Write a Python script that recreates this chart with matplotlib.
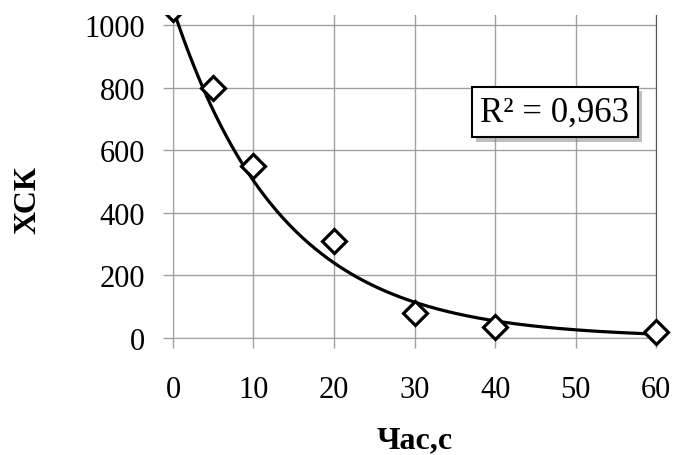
import numpy as np
import matplotlib
matplotlib.use("Agg")
import matplotlib.pyplot as plt
import matplotlib.patheffects as pe
from matplotlib.patches import Rectangle

# data
time_s = [0, 5, 10, 20, 30, 40, 60]
hsk = [1050, 800, 548, 310, 80, 35, 18]
r2_label = "R² = 0,963"
x_ticks = [0, 10, 20, 30, 40, 50, 60]
y_ticks = [0, 200, 400, 600, 800, 1000]

plt.rcParams['font.family'] = ['Liberation Serif', 'DejaVu Serif']

fig = plt.figure(figsize=(6.73, 4.56), dpi=100)
ax = fig.add_axes([0.257, 0.2566, 0.718, 0.7084])

# exponential trendline, fitted the way Excel does (log-linear)
b, ln_a = np.polyfit(time_s, np.log(hsk), 1)
xs = np.linspace(0, 60, 300)
trend, = ax.plot(xs, np.exp(ln_a) * np.exp(b * xs), color='black', lw=2.3, zorder=3)

pts, = ax.plot(time_s, hsk, linestyle='none', marker='D', markersize=12,
               markerfacecolor='white', markeredgecolor='black', markeredgewidth=2.3, zorder=4)
# clip only at the top of the plot area, like the original
clip = Rectangle((-0.1, -0.2), 1.2, 1.2, transform=ax.transAxes, visible=False)
ax.add_patch(clip)
pts.set_clip_path(clip)

ax.set_xlim(0, 60)
ax.set_ylim(0, 1032)
ax.set_xticks(x_ticks)
ax.set_yticks(y_ticks)
ax.grid(True, color='#a0a0a0', lw=1)
ax.set_axisbelow(True)
ax.tick_params(direction='out', length=7, width=1, color='#a0a0a0', labelsize=22)
ax.tick_params(axis='x', pad=20)
ax.tick_params(axis='y', pad=13)
for s in ['left', 'bottom']:
    ax.spines[s].set_color('#a0a0a0')
ax.spines['top'].set_visible(False)
ax.spines['right'].set_color('#555555')

ax.set_xlabel('Час,с', fontsize=23, fontweight='bold')
ax.set_ylabel('ХСК', fontsize=23, fontweight='bold')
ax.xaxis.set_label_coords(0.5, -0.27)
ax.yaxis.set_label_coords(-0.27, 0.43)

t = ax.text(47.4, 721, r2_label, fontsize=25, ha='center', va='center',
            bbox=dict(boxstyle='square,pad=0.25', fc='white', ec='black', lw=1.5), zorder=5)
t.get_bbox_patch().set_path_effects([
    pe.SimplePatchShadow(offset=(3, -3), shadow_rgbFace='gray', alpha=0.5), pe.Normal()])

fig.savefig('out.png', dpi=100)
